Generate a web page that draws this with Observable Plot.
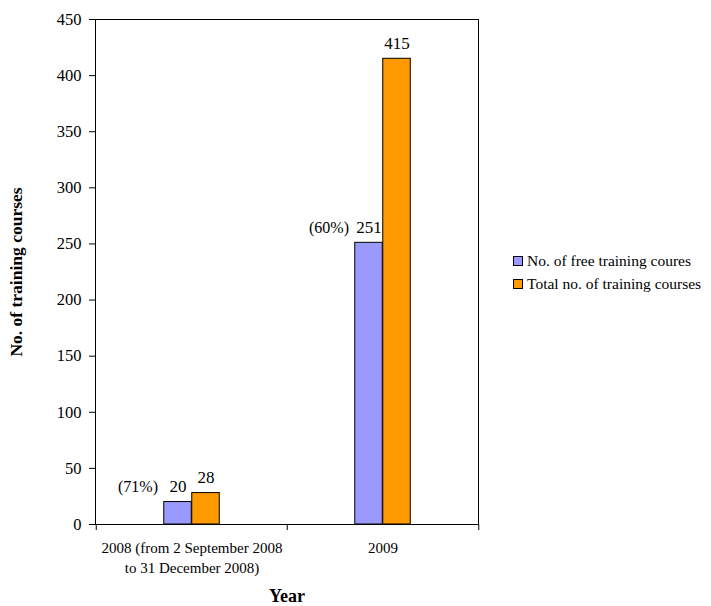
<!DOCTYPE html>
<html>
<head>
<meta charset="utf-8">
<script src="https://cdn.jsdelivr.net/npm/d3@7"></script>
<script src="https://cdn.jsdelivr.net/npm/@observablehq/plot@0.6"></script>
<style>
  body { margin: 0; background: #fff; }
  #wrap { position: relative; width: 711px; height: 606px; font-family: "Liberation Serif", "Times New Roman", serif; }
  #wrap svg text { font-family: "Liberation Serif", "Times New Roman", serif; }
  #legend { position: absolute; left: 513px; top: 249px; font-size: 15.5px; line-height: 23px; color: #000; }
  .sw { display: inline-block; width: 8px; height: 8px; border: 1px solid #000; margin-right: 4px; vertical-align: 0px; }
</style>
</head>
<body>
<div id="wrap"><div id="legend"></div></div>
<script>
const years = ["2008", "2009"];
const yearLabels = ["2008 (from 2 September 2008\nto 31 December 2008)", "2009"];
const freeCourses = [20, 251];
const totalCourses = [28, 415];
const freePct = ["(71%)", "(60%)"];
const seriesNames = ["No. of free training coures", "Total no. of training courses"];
const seriesColors = ["#9999FF", "#FF9900"];
const yTicks = [0, 50, 100, 150, 200, 250, 300, 350, 400, 450];

const freeData = years.map((y, i) => ({year: y, value: freeCourses[i], pct: freePct[i], label: yearLabels[i]}));
const totalData = years.map((y, i) => ({year: y, value: totalCourses[i]}));

const font = "Liberation Serif";
const chart = Plot.plot({
  width: 711,
  height: 606,
  marginLeft: 95,
  marginRight: 233,
  marginTop: 19,
  marginBottom: 82,
  style: {fontFamily: font, background: "white", color: "black", overflow: "visible"},
  x: {domain: years, padding: 0, axis: null},
  y: {domain: [0, 450], axis: null},
  marks: [
    Plot.barY(freeData, {x: "year", y: "value", fill: seriesColors[0], stroke: "black", strokeWidth: 1, insetLeft: 67.75, insetRight: 95.75}),
    Plot.barY(totalData, {x: "year", y: "value", fill: seriesColors[1], stroke: "black", strokeWidth: 1, insetLeft: 95.75, insetRight: 67.75}),
    Plot.frame({stroke: "black", strokeWidth: 1}),
    Plot.axisY({ticks: yTicks, tickSize: 6, tickPadding: 8, fontSize: 16.5, label: null, stroke: "black"}),
    Plot.axisX({ticks: years, tickSize: 6, tickFormat: () => "", label: null, dx: -95.75}),
    Plot.axisX({ticks: ["2009"], tickSize: 6, tickFormat: () => "", label: null, dx: 95.75}),
    Plot.text(freeData, {x: "year", text: "label", frameAnchor: "bottom", lineAnchor: "top", dy: 15, fontSize: 15, lineHeight: 1.3}),
    Plot.text(freeData, {x: "year", y: "value", text: d => String(d.value), dx: -14, dy: -10, lineAnchor: "bottom", fontSize: 17}),
    Plot.text(totalData, {x: "year", y: "value", text: d => String(d.value), dx: 14, dy: -10, lineAnchor: "bottom", fontSize: 17}),
    Plot.text(freeData, {x: "year", y: "value", text: "pct", dx: -34, dy: -10, lineAnchor: "bottom", textAnchor: "end", fontSize: 16}),
    Plot.text(["No. of training courses"], {frameAnchor: "left", rotate: -90, dx: -79, textAnchor: "middle", lineAnchor: "middle", fontWeight: "bold", fontSize: 17.5}),
    Plot.text(["Year"], {frameAnchor: "bottom", dy: 72, lineAnchor: "middle", fontWeight: "bold", fontSize: 18})
  ]
});
const wrap = document.getElementById("wrap");
wrap.insertBefore(chart, wrap.firstChild);

const legend = document.getElementById("legend");
seriesNames.forEach((n, i) => {
  const row = document.createElement("div");
  const sw = document.createElement("span");
  sw.className = "sw";
  sw.style.background = seriesColors[i];
  row.appendChild(sw);
  row.appendChild(document.createTextNode(n));
  legend.appendChild(row);
});
</script>
</body>
</html>
